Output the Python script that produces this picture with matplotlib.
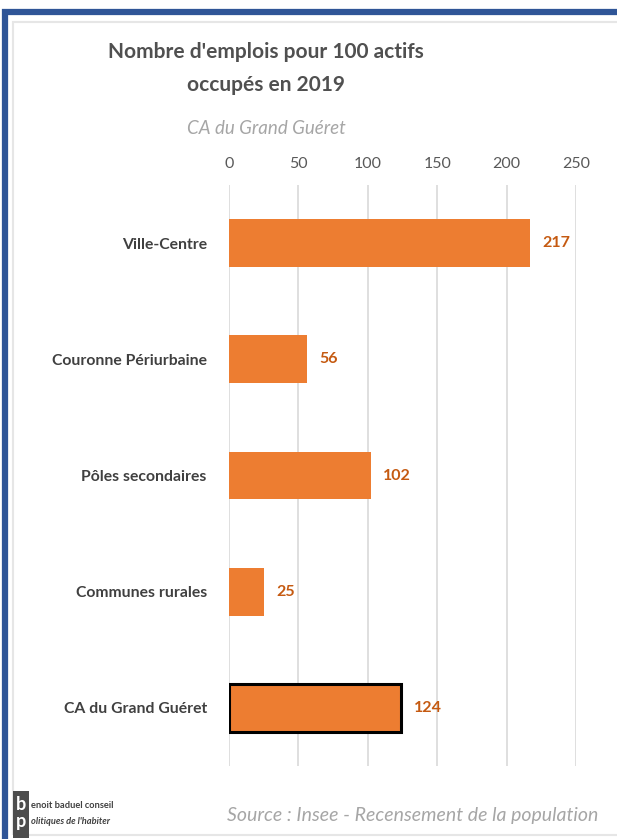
import matplotlib
matplotlib.use('agg')
import matplotlib.pyplot as plt
from matplotlib.patches import Rectangle

# data
categories = ["Ville-Centre", "Couronne Périurbaine", "Pôles secondaires",
              "Communes rurales", "CA du Grand Guéret"]
values = [217, 56, 102, 25, 124]
ticks = [0, 50, 100, 150, 200, 250]

plt.rcParams['font.family'] = ['Lato', 'DejaVu Sans']

fig = plt.figure(figsize=(6.17, 8.39), dpi=100)
fig.patch.set_facecolor('white')

# outer frame (blue border + light gray inner edge)
fig.patches.append(Rectangle((5 / 617, -0.05), 1.2, 1 - 12 / 839 + 0.05,
                             transform=fig.transFigure, facecolor='none',
                             edgecolor='#2f5597', linewidth=4.5))
fig.patches.append(Rectangle((13 / 617, 4 / 839), 1.2, 1 - 22 / 839 - 4 / 839,
                             transform=fig.transFigure, facecolor='none',
                             edgecolor='#e6e6e6', linewidth=1.5))

ax = fig.add_axes([229 / 617, 1 - 766 / 839, 347 / 617, (766 - 185) / 839])
y = list(range(len(categories)))
bars = ax.barh(y, values, height=0.41, color='#ed7d31')
# last bar highlighted with a black outline
bars[-1].set_edgecolor('black')
bars[-1].set_linewidth(2.2)

ax.set_xlim(0, 250)
ax.set_ylim(4.5, -0.5)
ax.set_xticks(ticks)
ax.xaxis.tick_top()
ax.tick_params(axis='x', length=0, pad=10, labelsize=11.5, labelcolor='#595959')
ax.tick_params(axis='y', length=0, pad=16)
ax.set_yticks(y)
ax.set_yticklabels(categories, fontsize=11.3, fontweight='bold', color='#404040')
ax.grid(axis='x', color='#d9d9d9', linewidth=1.2)
ax.set_axisbelow(True)
for s in ax.spines.values():
    s.set_visible(False)

for yi, v in zip(y, values):
    ax.text(v + 9, yi, str(v), va='center', ha='left', fontsize=11.5,
            fontweight='bold', color='#c55a11')

# titles
fig.text(266 / 617, 1 - 52 / 839, "Nombre d'emplois pour 100 actifs",
         ha='center', va='center', fontsize=15, fontweight='bold', color='#505050')
fig.text(266 / 617, 1 - 85 / 839, "occupés en 2019",
         ha='center', va='center', fontsize=15, fontweight='bold', color='#505050')
fig.text(266 / 617, 1 - 128 / 839, "CA du Grand Guéret",
         ha='center', va='center', fontsize=13.5, style='italic', color='#a6a6a6')

# source
fig.text(598 / 617, 1 - 815 / 839, "Source : Insee - Recensement de la population",
         ha='right', va='center', fontsize=14, style='italic', color='#a6a6a6')

# logo
fig.patches.append(Rectangle((13 / 617, 1 - 838 / 839), 16 / 617, 47 / 839,
                             transform=fig.transFigure, facecolor='#4d4d4d',
                             edgecolor='none'))
fig.text(21 / 617, 1 - 805 / 839, "b", ha='center', va='center', fontsize=13,
         color='white', fontweight='bold')
fig.text(21 / 617, 1 - 822 / 839, "p", ha='center', va='center', fontsize=13,
         color='white', fontweight='bold')
fig.text(31 / 617, 1 - 806 / 839, "enoit baduel conseil", ha='left', va='center',
         fontsize=6.7, fontweight='bold', color='#404040')
fig.text(31 / 617, 1 - 821 / 839, "olitiques de l'habiter", ha='left', va='center',
         fontsize=6.7, fontweight='bold', style='italic', color='#404040')

plt.savefig("out.png", dpi=100)
